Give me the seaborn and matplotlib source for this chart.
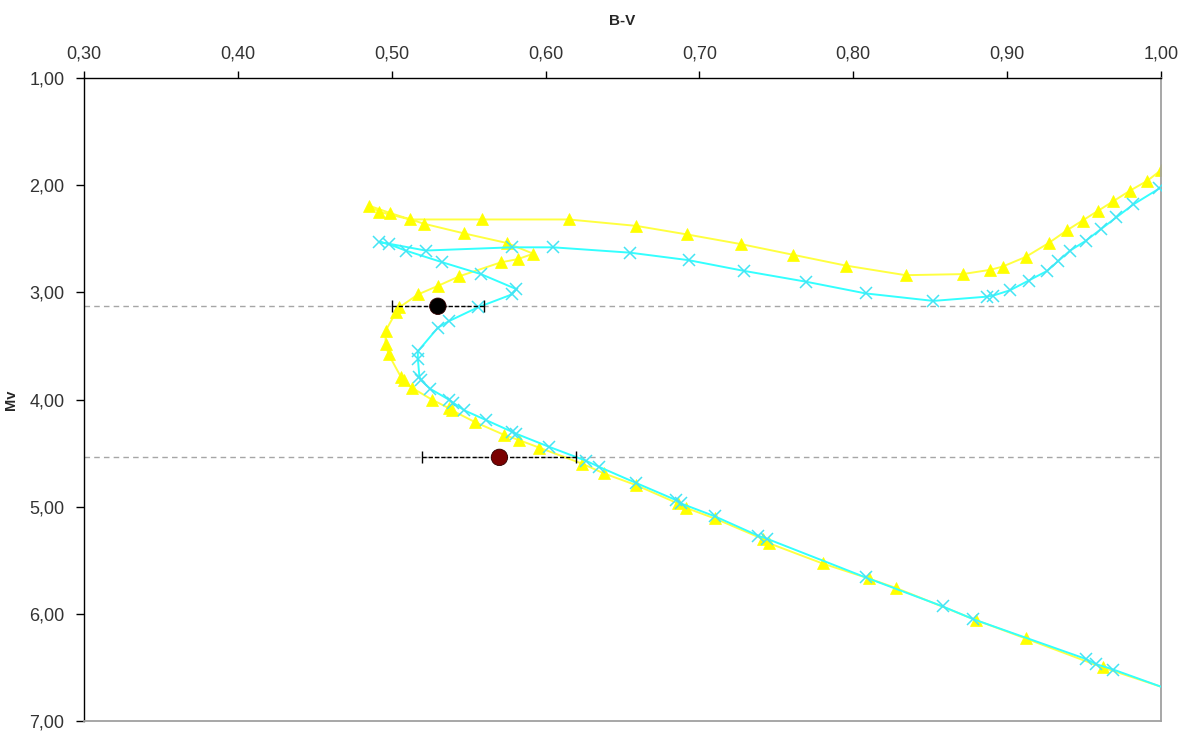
import numpy as np
import pandas as pd
import seaborn as sns
import matplotlib
matplotlib.use("Agg")
import matplotlib.pyplot as plt
from matplotlib.ticker import FixedLocator, FuncFormatter

# isochrone 1 (yellow, triangles), ordered from the faint main sequence to the giant branch
# first point is where the line leaves the frame (no marker there)
yellow_bv = [1.000, 0.962, 0.912, 0.880, 0.828, 0.810, 0.780, 0.745, 0.741, 0.710,
             0.691, 0.686, 0.659, 0.638, 0.624, 0.596, 0.583, 0.573, 0.554, 0.539,
             0.537, 0.526, 0.513, 0.508, 0.506, 0.498, 0.496, 0.496, 0.503, 0.505,
             0.517, 0.530, 0.544, 0.571, 0.582, 0.592, 0.575, 0.547, 0.521, 0.499,
             0.485, 0.492, 0.512, 0.559, 0.615, 0.659, 0.692, 0.727, 0.761, 0.795,
             0.834, 0.871, 0.889, 0.897, 0.912, 0.927, 0.939, 0.949, 0.959, 0.969,
             0.980, 0.991, 1.000]
yellow_mv = [6.68, 6.50, 6.23, 6.06, 5.76, 5.67, 5.53, 5.34, 5.30, 5.11,
             5.01, 4.97, 4.80, 4.69, 4.60, 4.45, 4.38, 4.33, 4.21, 4.10,
             4.08, 4.00, 3.89, 3.82, 3.79, 3.58, 3.48, 3.36, 3.18, 3.14,
             3.02, 2.94, 2.85, 2.72, 2.69, 2.64, 2.54, 2.45, 2.36, 2.26,
             2.19, 2.25, 2.32, 2.32, 2.32, 2.38, 2.46, 2.55, 2.65, 2.75,
             2.84, 2.83, 2.79, 2.76, 2.67, 2.54, 2.42, 2.33, 2.24, 2.15,
             2.05, 1.96, 1.86]

# isochrone 2 (cyan, crosses)
cyan_bv = [1.000, 0.969, 0.958, 0.951, 0.878, 0.858, 0.808, 0.744, 0.738, 0.710,
           0.688, 0.685, 0.659, 0.635, 0.626, 0.602, 0.581, 0.578, 0.561, 0.547,
           0.540, 0.537, 0.525, 0.519, 0.518, 0.517, 0.517, 0.530, 0.537, 0.556,
           0.578, 0.581, 0.558, 0.533, 0.509, 0.498, 0.492, 0.522, 0.578, 0.605,
           0.655, 0.693, 0.729, 0.769, 0.808, 0.852, 0.887, 0.891, 0.902, 0.914,
           0.926, 0.933, 0.941, 0.951, 0.961, 0.971, 0.982, 0.999]
cyan_mv = [6.68, 6.52, 6.47, 6.42, 6.05, 5.93, 5.66, 5.30, 5.27, 5.09,
           4.97, 4.94, 4.78, 4.63, 4.57, 4.44, 4.32, 4.30, 4.19, 4.10,
           4.03, 4.00, 3.90, 3.82, 3.79, 3.62, 3.55, 3.33, 3.27, 3.14,
           3.02, 2.97, 2.83, 2.72, 2.61, 2.55, 2.53, 2.61, 2.58, 2.58,
           2.63, 2.70, 2.80, 2.90, 3.01, 3.08, 3.04, 3.03, 2.98, 2.89,
           2.80, 2.71, 2.61, 2.52, 2.41, 2.30, 2.18, 2.03]

# two observed stars with B-V error
star_bv = [0.53, 0.57]
star_bv_err = [0.03, 0.05]
star_mv = [3.13, 4.54]
star_colors = ["#000000", "#7a0000"]

x_ticks = [0.30, 0.40, 0.50, 0.60, 0.70, 0.80, 0.90, 1.00]
y_ticks = [1.00, 2.00, 3.00, 4.00, 5.00, 6.00, 7.00]


def comma(v, pos=None):
    return f"{v:.2f}".replace(".", ",")


def main():
    sns.set_theme(style="white")
    plt.rcParams["font.family"] = ["Liberation Sans", "DejaVu Sans"]

    df_y = pd.DataFrame({"bv": yellow_bv, "mv": yellow_mv})
    df_c = pd.DataFrame({"bv": cyan_bv, "mv": cyan_mv})

    fig = plt.figure(figsize=(11.85, 7.33), dpi=100)
    ax = fig.add_axes([84 / 1185, 1 - 721 / 733, 1077 / 1185, 643 / 733])

    for mv in star_mv:
        ax.axhline(mv, color="#a6a6a6", lw=1, ls=(0, (4, 3)), zorder=1)

    sns.lineplot(data=df_y, x="bv", y="mv", sort=False, estimator=None, ax=ax,
                 color="#ffff40", lw=1.4, marker="^", markersize=8,
                 markerfacecolor="#ffff00", markeredgecolor="#ffff00",
                 markeredgewidth=0.5, markevery=list(range(1, len(df_y))), zorder=2)
    sns.lineplot(data=df_c, x="bv", y="mv", sort=False, estimator=None, ax=ax,
                 color="#33ffff", lw=1.4, marker="x", markersize=8,
                 markeredgecolor="#44e4f4", markeredgewidth=1.1,
                 markevery=list(range(1, len(df_c))), zorder=3)

    eb = ax.errorbar(star_bv, star_mv, xerr=star_bv_err, fmt="none", ecolor="#000000",
                     elinewidth=1, capsize=4, capthick=1, zorder=4)
    for col in eb[2]:
        col.set_linestyle((0, (3, 1.5)))
    df_s = pd.DataFrame({"bv": star_bv, "mv": star_mv, "c": star_colors})
    sns.scatterplot(data=df_s, x="bv", y="mv", hue="c", palette=star_colors,
                    s=140, edgecolor="#300000", linewidth=0.6, legend=False,
                    ax=ax, zorder=5)

    ax.set_xlim(0.30, 1.00)
    ax.set_ylim(7.00, 1.00)
    ax.xaxis.set_major_locator(FixedLocator(x_ticks))
    ax.yaxis.set_major_locator(FixedLocator(y_ticks))
    ax.xaxis.set_major_formatter(FuncFormatter(comma))
    ax.yaxis.set_major_formatter(FuncFormatter(comma))
    ax.xaxis.tick_top()
    ax.tick_params(axis="x", which="major", top=True, bottom=False, direction="out",
                   length=5, width=1, color="#000000", labelsize=13, pad=6,
                   labelcolor="#333333")
    ax.tick_params(axis="y", which="major", left=True, direction="out",
                   length=6, width=1, color="#000000", labelsize=13, pad=8,
                   labelcolor="#333333")

    for side in ["left", "top"]:
        ax.spines[side].set_color("#000000")
        ax.spines[side].set_linewidth(1)
    for side in ["right", "bottom"]:
        ax.spines[side].set_color("#a0a0a0")
        ax.spines[side].set_linewidth(1.3)

    ax.xaxis.set_label_position("top")
    ax.set_xlabel("B-V", fontsize=11, fontweight="bold")
    ax.xaxis.set_label_coords(0.5, 1 + 53 / 643)
    ax.set_ylabel("Mv", fontsize=10.5, fontweight="bold")
    ax.yaxis.set_label_coords(-66 / 1077, 0.5)
    ax.grid(False)

    fig.savefig("out.png", dpi=100, facecolor="white")


if __name__ == "__main__":
    main()
